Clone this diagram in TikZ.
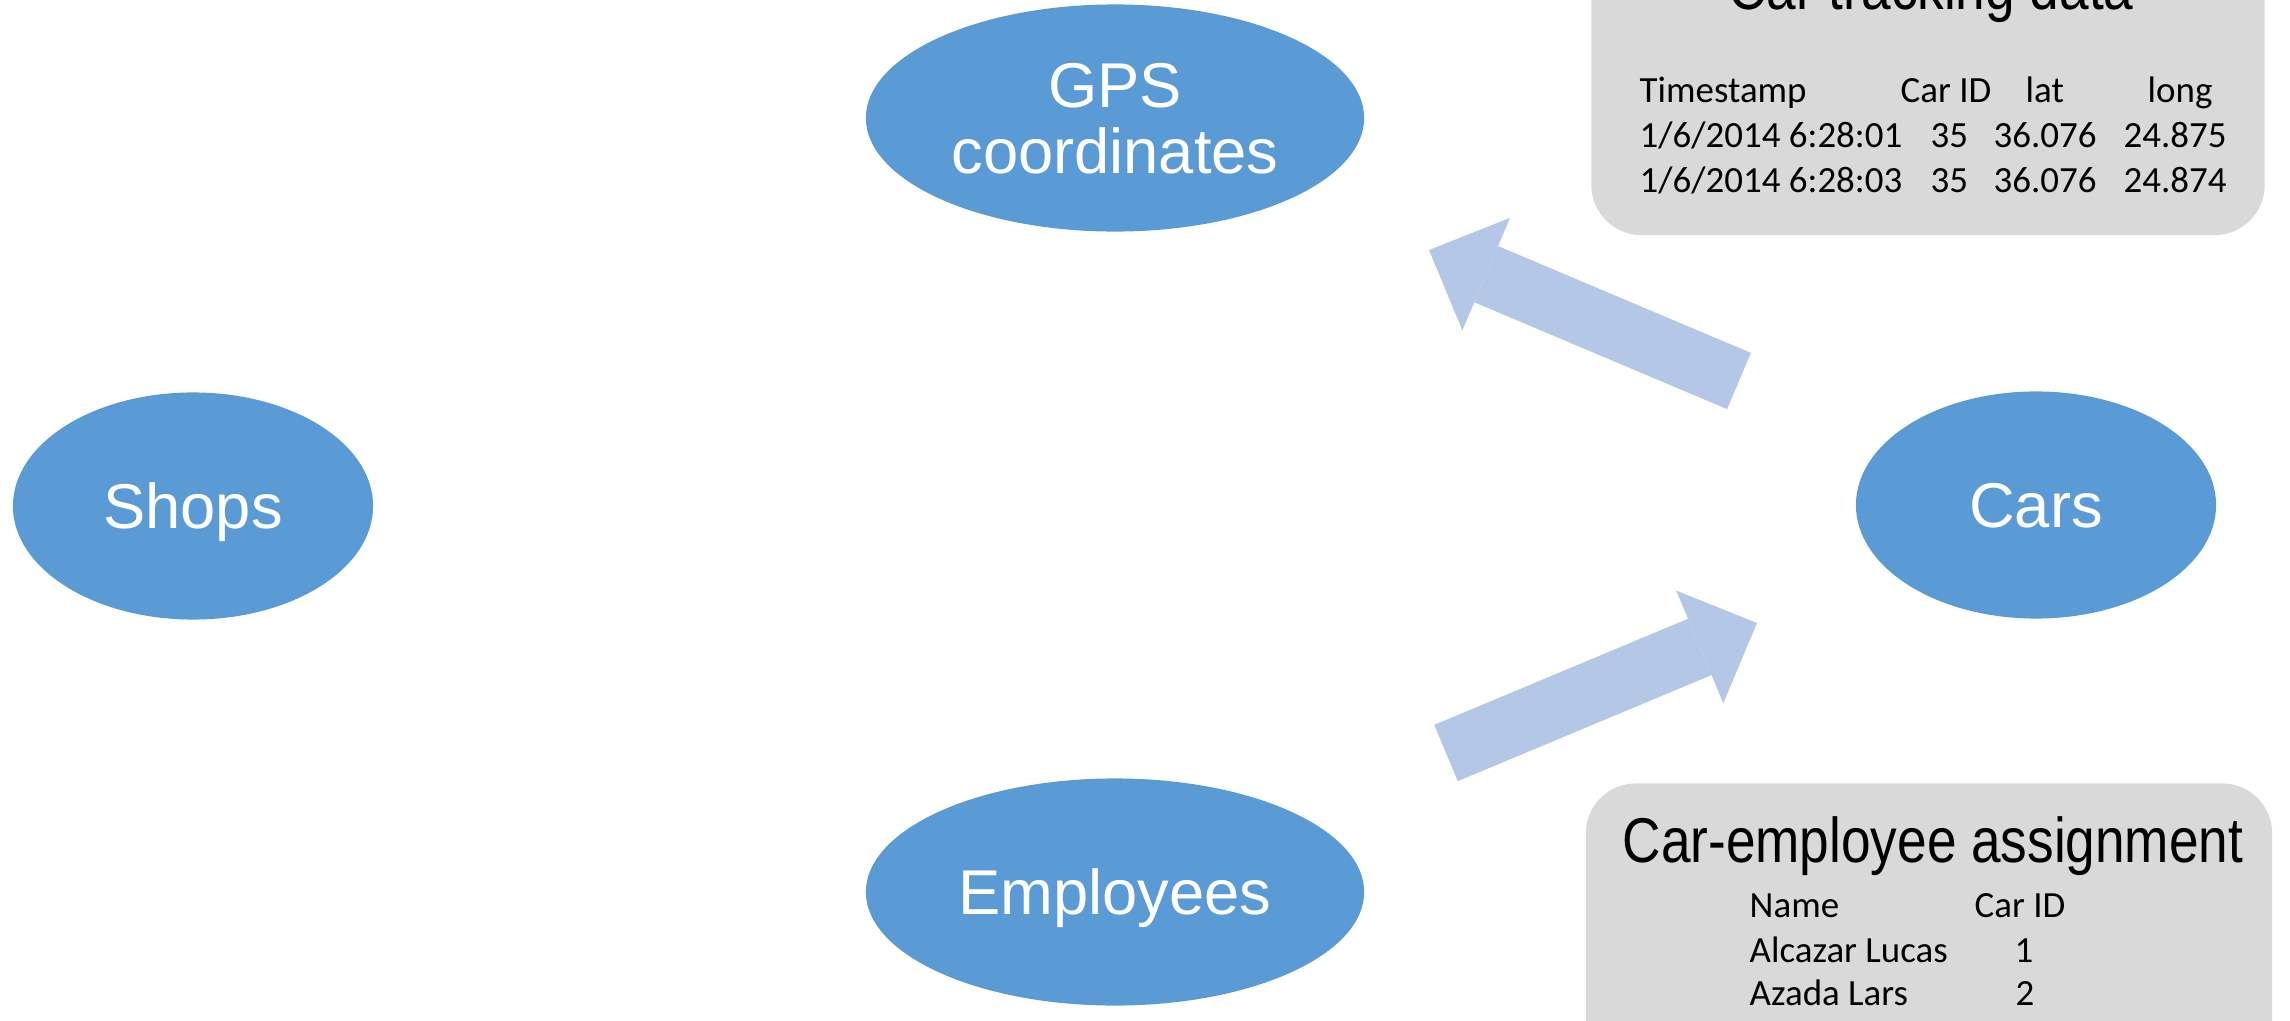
\documentclass[tikz,border=0pt]{standalone}
\usepackage{fontspec}
\setmainfont{Liberation Sans}
\newfontfamily\tabfont{Carlito}
\newfontfamily\headfont[FakeStretch=0.84]{Liberation Sans}
\usetikzlibrary{shapes.geometric,arrows.meta}

\definecolor{entityblue}{HTML}{5B9BD5}
\definecolor{arrowblue}{HTML}{B4C7E7}
\definecolor{boxgray}{HTML}{D9D9D9}

\tikzset{
  entity/.style={ellipse,fill=entityblue,text=white,inner sep=0pt,
    minimum height=2.27cm,text depth=0pt,align=center,
    font=\fontsize{18}{18.8}\selectfont},
  infobox/.style={rectangle,rounded corners=0.5cm,fill=boxgray},
  boxtitle/.style={anchor=base,inner sep=0pt,
    font=\headfont\fontsize{18}{20}\selectfont},
  cell/.style={anchor=base west,inner sep=0pt,
    font=\tabfont\fontsize{10.5}{12.6}\selectfont},
  bigarrow/.style={draw=arrowblue,line width=0.61cm,
    -{Triangle[length=0.62cm,width=1.22cm,line width=0pt]}}
}

\begin{document}
\begin{tikzpicture}[x=0.01cm,y=-0.01cm]

        \useasboundingbox (0,0) rectangle (2290,1021);
        \clip (0,0) rectangle (2290,1021);

        \begin{scope}[every node/.style={entity}]
          \node[minimum width=3.6cm]  (shops)     at (193,506)   {Shops};
          \node[minimum width=4.98cm] (gps)       at (1115,118)  {GPS\\coordinates};
          \node[minimum width=3.6cm]  (cars)      at (2036,505)  {Cars};
          \node[minimum width=4.98cm] (employees) at (1115,892)  {Employees};
        \end{scope}

        % data boxes
        \node[infobox,minimum width=6.73cm,minimum height=3.2cm]  (track)  at (1928,75)  {};
        \node[infobox,minimum width=6.86cm,minimum height=3.17cm] (assign) at (1929,942) {};

        \node[boxtitle] (tracktitle)  at (1931,10)  {Car tracking data};
        \node[boxtitle] (assigntitle) at (1933,862) {Car-employee assignment};

        \begin{scope}[every node/.style={cell}]
          \node (th1) at (1639,102) {Timestamp};
          \node (th2) at (1900,102) {Car ID};
          \node (th3) at (2025,102) {lat};
          \node (th4) at (2147,102) {long};
          \node (ta1) at (1639,147) {1/6/2014 6:28:01};
          \node (ta2) at (1930,147) {35};
          \node (ta3) at (1993,147) {36.076};
          \node (ta4) at (2123,147) {24.875};
          \node (tb1) at (1639,192) {1/6/2014 6:28:03};
          \node (tb2) at (1930,192) {35};
          \node (tb3) at (1993,192) {36.076};
          \node (tb4) at (2123,192) {24.874};

          \node (ah1) at (1749,917)  {Name};
          \node (ah2) at (1974,917)  {Car ID};
          \node (aa1) at (1749,962)  {Alcazar Lucas};
          \node[anchor=base] (aa2) at (2024,962)  {1};
          \node (ab1) at (1749,1005) {Azada Lars};
          \node[anchor=base] (ab2) at (2025,1005) {2};
        \end{scope}

        % arrows
        \coordinate (carsout)  at (1739,381);
        \coordinate (gpsin)    at (1429,250);
        \coordinate (empout)   at (1446,753);
        \coordinate (carsin)   at (1757,623);

        \draw[bigarrow] (carsout) -- (gpsin);
        \draw[bigarrow] (empout) -- (carsin);

      \end{tikzpicture}
\end{document}
